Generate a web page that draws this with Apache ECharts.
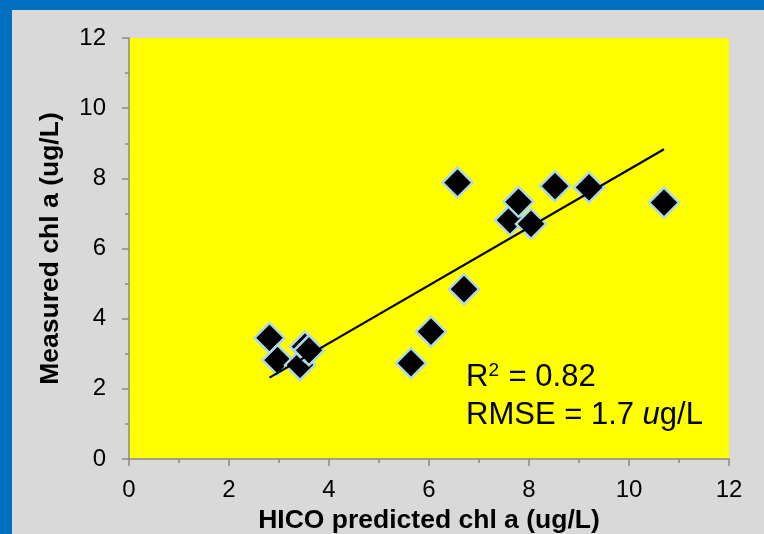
<!DOCTYPE html>
<html><head><meta charset="utf-8">
<script src="https://cdn.jsdelivr.net/npm/echarts@6/dist/echarts.min.js"></script>
<style>html,body{margin:0;padding:0;background:#0070c0;}#c{width:764px;height:534px;}</style>
</head><body><div id="c"></div>
<script>
const xTitle = 'HICO predicted chl a (ug/L)';
const yTitle = 'Measured chl a (ug/L)';
const predicted = [2.81, 2.97, 3.42, 3.52, 3.60, 5.64, 6.04, 6.70, 6.57, 7.62, 7.79, 8.04, 8.52, 9.20, 10.70];
const measured  = [3.45, 2.82, 2.68, 3.20, 3.10, 2.73, 3.63, 4.84, 7.88, 6.81, 7.33, 6.70, 7.78, 7.74, 7.31];
const trendX = [2.81, 10.70];
const trendY = [2.32, 8.83];
const axisMin = 0, axisMax = 12, axisStep = 2;

const pts = predicted.map((x, i) => [x, measured[i]]);
const trend = trendX.map((x, i) => [x, trendY[i]]);
const font = '"Liberation Sans", Arial, sans-serif';
const axisCommon = {
  min: axisMin, max: axisMax, interval: axisStep,
  axisLine: { show: true, lineStyle: { color: '#898989', width: 1.5 } },
  axisTick: { show: true, inside: false, length: 7, lineStyle: { color: '#898989', width: 1.5 } },
  minorTick: { show: true, splitNumber: 2, length: 4, lineStyle: { color: '#898989', width: 1.5 } },
  splitLine: { show: false },
  nameLocation: 'middle',
  nameTextStyle: { fontFamily: font, fontWeight: 'bold', fontSize: 26.5, color: '#000' }
};
const chart = echarts.init(document.getElementById('c'), null, { renderer: 'canvas' });
chart.setOption({
  backgroundColor: '#0070c0',
  animation: false,
  graphic: [
    { type: 'rect', left: 12, top: 10, z: -10, shape: { width: 752, height: 524 }, style: { fill: '#d9d9d9' } },
    { type: 'text', x: 466, y: 377, z: 100, style: {
        text: 'R{sup|2} = 0.82', font: '31px ' + font, fill: '#000', verticalAlign: 'middle',
        rich: { sup: { fontSize: 19, verticalAlign: 'top', padding: [0, 1, 12, 0], fontFamily: font } } } },
    { type: 'text', x: 466, y: 415, z: 100, style: {
        text: 'RMSE = 1.7 {i|u}g/L', font: '31px ' + font, fill: '#000', verticalAlign: 'middle',
        rich: { i: { fontStyle: 'italic', fontSize: 31, fontFamily: font } } } }
  ],
  grid: { left: 129, right: 35, top: 38, bottom: 75, show: true, backgroundColor: '#ffff00', borderWidth: 0,
          containLabel: false, outerBoundsMode: 'none' },
  xAxis: Object.assign({}, axisCommon, {
    type: 'value', name: xTitle, nameGap: 46,
    axisLabel: { margin: 19, fontFamily: font, fontSize: 24, color: '#000' }
  }),
  yAxis: Object.assign({}, axisCommon, {
    type: 'value', name: yTitle, nameGap: 65,
    axisLabel: { margin: 23, fontFamily: font, fontSize: 24, color: '#000' }
  }),
  series: [
    { type: 'scatter', data: pts, symbol: 'diamond', symbolSize: 30, z: 2,
      itemStyle: { color: '#000', borderColor: '#add8e6', borderWidth: 2.5, opacity: 1 } },
    { type: 'line', data: trend, symbol: 'none', z: 5,
      lineStyle: { color: '#000', width: 2.2 } }
  ]
});
</script></body></html>
